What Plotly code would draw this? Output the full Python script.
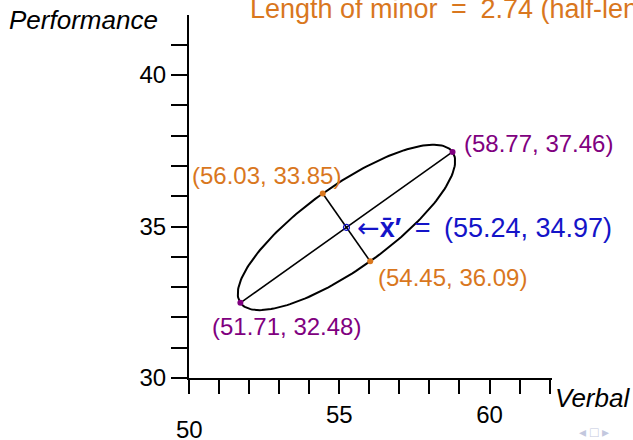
import numpy as np
import plotly.graph_objects as go

# ---- data ----
center = [55.24, 34.97]
major_ends_x = [51.71, 58.77]
major_ends_y = [32.48, 37.46]
minor_ends_x = [54.45, 56.03]
minor_ends_y = [36.09, 33.85]
major_labels = ["(51.71, 32.48)", "(58.77, 37.46)"]
minor_labels = ["(56.03, 33.85)", "(54.45, 36.09)"]
center_label = '<span style="font-family:DejaVu Sans">←</span><b>x̄′</b>\u2002=\u2002(55.24, 34.97)'
minor_length_text = "Length of minor\u2002=\u20022.74 (half-length\u2002=\u20021.37)"
x_tick_vals = list(range(50, 63))
x_tick_text = ["55" if v == 55 else "60" if v == 60 else "" for v in x_tick_vals]
y_tick_vals = list(range(30, 42))
y_tick_text = [str(v) if v in (30, 35, 40) else "" for v in y_tick_vals]

ORANGE = "#d9771e"
PURPLE = "#800080"
BLUE = "#1414c8"
FONT = "Liberation Sans"

# ellipse from center and axis endpoints
cx, cy = center
ux, uy = major_ends_x[1] - cx, major_ends_y[1] - cy
vx, vy = minor_ends_x[0] - cx, minor_ends_y[0] - cy
t = np.linspace(0, 2 * np.pi, 200)
ex = cx + ux * np.cos(t) + vx * np.sin(t)
ey = cy + uy * np.cos(t) + vy * np.sin(t)

fig = go.Figure()
fig.add_trace(go.Scatter(x=ex, y=ey, mode="lines", line=dict(color="black", width=2), hoverinfo="skip"))
fig.add_trace(go.Scatter(x=major_ends_x, y=major_ends_y, mode="lines", line=dict(color="black", width=1.6)))
fig.add_trace(go.Scatter(x=minor_ends_x, y=minor_ends_y, mode="lines", line=dict(color="black", width=1.6)))
fig.add_trace(go.Scatter(x=major_ends_x, y=major_ends_y, mode="markers", marker=dict(color=PURPLE, size=6)))
fig.add_trace(go.Scatter(x=minor_ends_x, y=minor_ends_y, mode="markers", marker=dict(color=ORANGE, size=6)))
fig.add_trace(go.Scatter(x=[cx], y=[cy], mode="markers",
                         marker=dict(color="rgba(0,0,0,0)", size=6, line=dict(color=BLUE, width=1.2))))

ann = []
# major endpoint labels
ann.append(dict(x=major_ends_x[0], y=major_ends_y[0], text=major_labels[0], xanchor="left", yanchor="middle",
                xshift=-30, yshift=-24, font=dict(color=PURPLE, size=24)))
ann.append(dict(x=major_ends_x[1], y=major_ends_y[1], text=major_labels[1], xanchor="left", yanchor="middle",
                xshift=9, yshift=8, font=dict(color=PURPLE, size=24)))
# minor endpoint labels (placed as in the reference)
ann.append(dict(x=minor_ends_x[0], y=minor_ends_y[0], text=minor_labels[0], xanchor="right", yanchor="middle",
                xshift=20, yshift=18, font=dict(color=ORANGE, size=24)))
ann.append(dict(x=minor_ends_x[1], y=minor_ends_y[1], text=minor_labels[1], xanchor="left", yanchor="middle",
                xshift=6, yshift=-16, font=dict(color=ORANGE, size=24)))
# center label
ann.append(dict(x=cx, y=cy, text=center_label, xanchor="left", yanchor="middle", xshift=9, yshift=0,
                font=dict(color=BLUE, size=27)))
# top text (clipped at the page edge, as in the reference)
ann.append(dict(xref="paper", yref="paper", x=(248 - 189) / 363, y=1, text=minor_length_text,
                xanchor="left", yanchor="middle", yshift=6, font=dict(color=ORANGE, size=27)))
# axis titles
ann.append(dict(xref="paper", yref="paper", x=0, y=1, text="<i>Performance</i>", xanchor="right",
                yanchor="middle", xshift=-29, yshift=-5, font=dict(color="black", size=26)))
ann.append(dict(xref="paper", yref="paper", x=1, y=0, text="<i>Verbal</i>", xanchor="left",
                yanchor="middle", xshift=1, yshift=-20, font=dict(color="black", size=26)))
# x = 50 label, placed lower as in the reference
ann.append(dict(x=50, y=30, text="50", xanchor="center", yanchor="middle", yshift=-51,
                font=dict(color="black", size=24)))
# navigation symbols
ann.append(dict(xref="paper", yref="paper", x=1, y=0, text="◂ □ ▸", xanchor="left", yanchor="middle",
                xshift=25, yshift=-54, font=dict(color="#c3c8de", size=14)))
for a in ann:
    a["showarrow"] = False

fig.update_layout(
    width=633, height=440,
    margin=dict(l=189, r=81, t=15, b=62),
    paper_bgcolor="white", plot_bgcolor="white",
    showlegend=False,
    font=dict(family=FONT, color="black"),
    annotations=ann,
    xaxis=dict(range=[50, 62.08], showgrid=False, zeroline=False, showline=True, linecolor="black", linewidth=2,
               ticks="outside", ticklen=14, tickwidth=2, tickcolor="black",
               tickvals=x_tick_vals, ticktext=x_tick_text, tickfont=dict(size=24)),
    yaxis=dict(range=[30, 41.98], showgrid=False, zeroline=False, showline=True, linecolor="black", linewidth=2,
               ticks="outside", ticklen=16, tickwidth=2, tickcolor="black",
               tickvals=y_tick_vals, ticktext=y_tick_text, tickfont=dict(size=24)),
)

fig.write_html("out.html")
